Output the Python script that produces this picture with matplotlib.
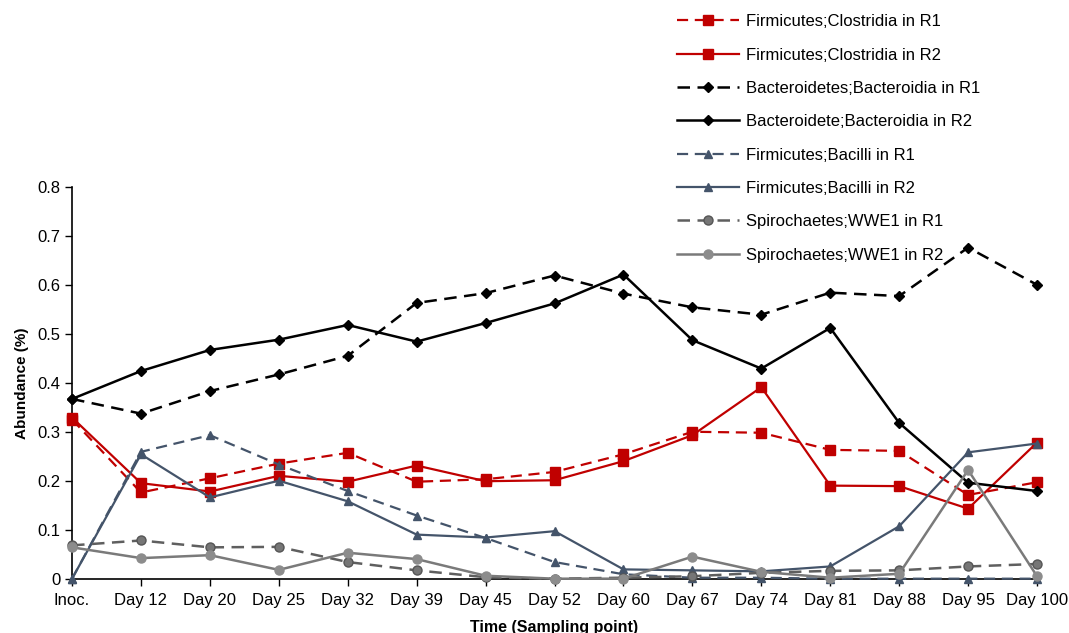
import matplotlib
matplotlib.use("Agg")
import matplotlib.pyplot as plt
import numpy as np

plt.rcParams['font.family'] = ['Liberation Sans', 'DejaVu Sans']

days = ["Inoc.", "Day 12", "Day 20", "Day 25", "Day 32", "Day 39", "Day 45", "Day 52",
        "Day 60", "Day 67", "Day 74", "Day 81", "Day 88", "Day 95", "Day 100"]

clos_r1 = [0.325, 0.176, 0.205, 0.235, 0.257, 0.198, 0.203, 0.218, 0.254, 0.300, 0.298, 0.263, 0.261, 0.171, 0.197]
clos_r2 = [0.329, 0.195, 0.178, 0.210, 0.198, 0.231, 0.199, 0.201, 0.240, 0.293, 0.391, 0.190, 0.189, 0.143, 0.278]
bact_r1 = [0.367, 0.337, 0.383, 0.417, 0.455, 0.563, 0.583, 0.619, 0.582, 0.554, 0.539, 0.584, 0.577, 0.676, 0.600]
bact_r2 = [0.367, 0.424, 0.467, 0.488, 0.518, 0.484, 0.522, 0.562, 0.621, 0.487, 0.429, 0.512, 0.318, 0.196, 0.179]
baci_r1 = [0.0, 0.259, 0.293, 0.233, 0.179, 0.129, 0.083, 0.034, 0.009, 0.002, 0.002, 0.0, 0.0, 0.0, 0.0]
baci_r2 = [0.0, 0.254, 0.166, 0.200, 0.158, 0.090, 0.084, 0.097, 0.019, 0.017, 0.015, 0.025, 0.107, 0.258, 0.276]
wwe1_r1 = [0.068, 0.078, 0.064, 0.065, 0.034, 0.017, 0.003, 0.0, 0.002, 0.005, 0.012, 0.016, 0.017, 0.025, 0.030]
wwe1_r2 = [0.064, 0.042, 0.048, 0.018, 0.053, 0.040, 0.006, 0.0, 0.0, 0.045, 0.014, 0.002, 0.010, 0.222, 0.005]

labels = ["Firmicutes;Clostridia in R1", "Firmicutes;Clostridia in R2",
          "Bacteroidetes;Bacteroidia in R1", "Bacteroidete;Bacteroidia in R2",
          "Firmicutes;Bacilli in R1", "Firmicutes;Bacilli in R2",
          "Spirochaetes;WWE1 in R1", "Spirochaetes;WWE1 in R2"]

red = "#C00000"
slate = "#44546A"
dash = (0, (5, 3))

fig = plt.figure(figsize=(10.69, 6.33), dpi=100)
ax = fig.add_axes([0.0674, 0.0858, 0.9027, 0.619])
x = np.arange(len(days))

# one (values, style) pair per series, R1 dashed and R2 solid
styles = [
    (clos_r1, dict(color=red, ls=dash, lw=1.6, marker="s", ms=6.5, mfc=red, mec=red)),
    (clos_r2, dict(color=red, ls="-", lw=1.6, marker="s", ms=6.5, mfc=red, mec=red)),
    (bact_r1, dict(color="black", ls=dash, lw=1.8, marker="D", ms=5, mfc="black", mec="black")),
    (bact_r2, dict(color="black", ls="-", lw=1.8, marker="D", ms=5, mfc="black", mec="black")),
    (baci_r1, dict(color=slate, ls=dash, lw=1.6, marker="^", ms=6, mfc=slate, mec=slate)),
    (baci_r2, dict(color=slate, ls="-", lw=1.6, marker="^", ms=6, mfc=slate, mec=slate)),
    (wwe1_r1, dict(color="#5F5F5F", ls=dash, lw=1.8, marker="o", ms=6.5, mfc="#767676", mec="#555555")),
    (wwe1_r2, dict(color="#7A7A7A", ls="-", lw=1.8, marker="o", ms=6.5, mfc="#8C8C8C", mec="#8C8C8C")),
]

handles = []
for (vals, kw), lab in zip(styles, labels):
    h, = ax.plot(x, vals, label=lab, clip_on=False, zorder=3, **kw)
    handles.append(h)

ax.set_xlim(0, 14)
ax.set_ylim(0, 0.8)
ax.set_xticks(x)
ax.set_xticklabels(days)
ax.set_yticks(np.arange(0, 0.81, 0.1))
ax.set_yticklabels(["0"] + [f"{v:.1f}" for v in np.arange(0.1, 0.81, 0.1)])
ax.tick_params(axis="both", labelsize=12, direction="out", length=5, width=1, colors="black")
ax.tick_params(axis="x", pad=5)
for side in ["top", "right"]:
    ax.spines[side].set_visible(False)
for side in ["left", "bottom"]:
    ax.spines[side].set_linewidth(1.2)

ax.set_ylabel("Abundance (%)", fontsize=11, fontweight="bold", labelpad=6)
ax.set_xlabel("Time (Sampling point)", fontsize=11.5, fontweight="bold", labelpad=9)

fig.legend(handles=handles, loc="upper left", bbox_to_anchor=(0.62, 1.0),
           frameon=False, fontsize=12, handlelength=3.7, handletextpad=0.42,
           labelspacing=1.1, borderpad=0.35)

fig.savefig("out.png", dpi=100)
